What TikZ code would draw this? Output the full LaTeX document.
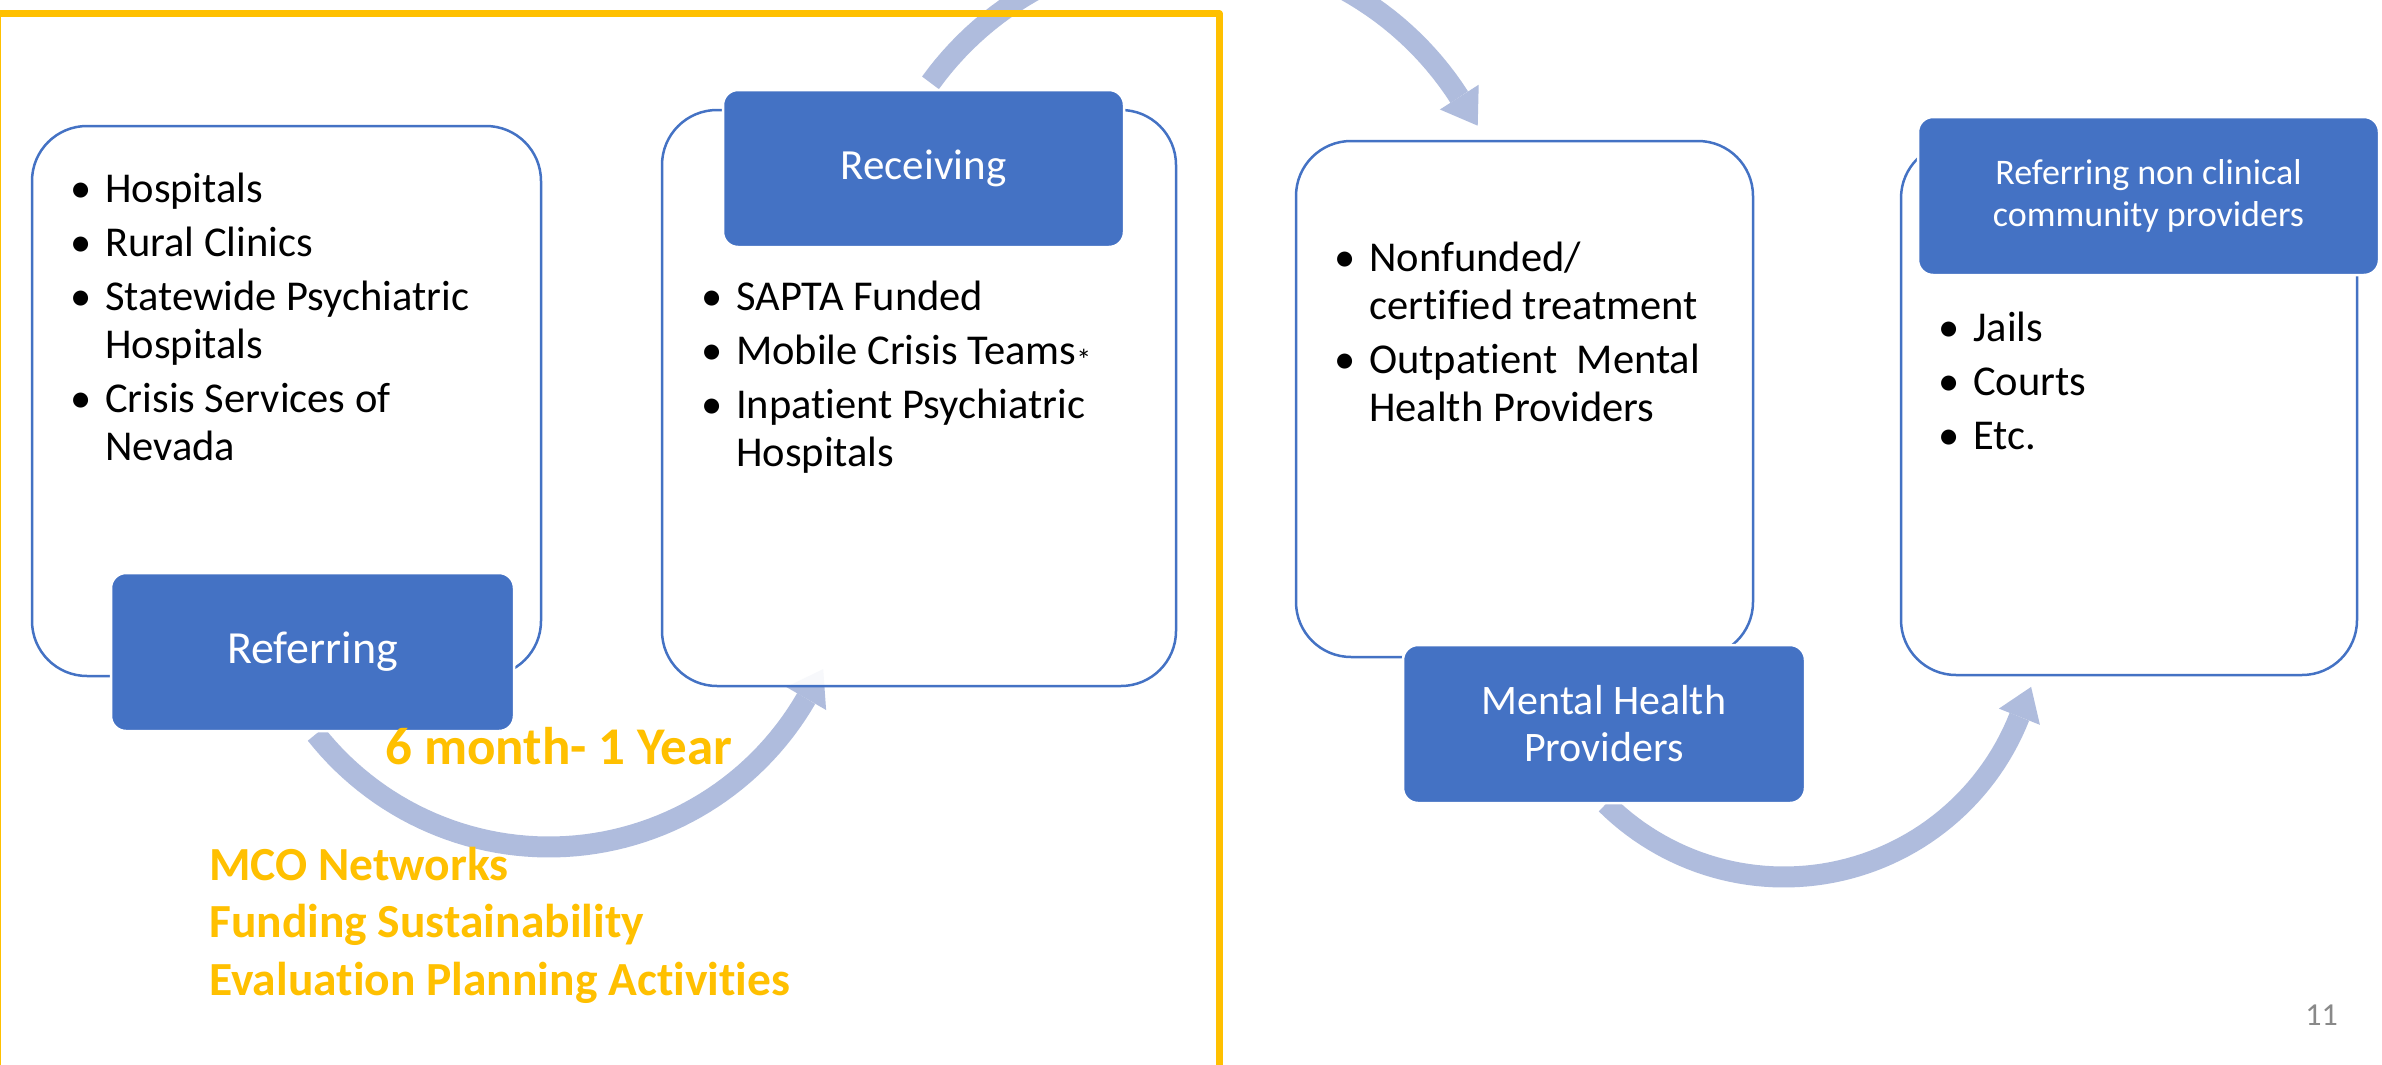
\documentclass[tikz,border=0pt]{standalone}
\usepackage{fontspec}
\setmainfont{Carlito}[Ligatures={NoCommon,NoContextual}]
\definecolor{boxblue}{HTML}{4472C4}
\definecolor{arrowc}{RGB}{175,188,221}
\definecolor{yel}{HTML}{FFC000}
\definecolor{pgnum}{HTML}{898989}
\newcommand{\bul}[1]{\par\hangindent=35pt\hangafter=1\noindent\makebox[35pt][l]{•}#1}
\newcommand{\isep}{\par\vspace{6pt}}
\begin{document}
\begin{tikzpicture}[x=1pt,y=-1pt,
  wbox/.style={draw=boxblue,line width=2.5pt,fill=white,fill opacity=0.9,rounded corners=55pt,inner sep=0pt},
  bbox/.style={draw=white,line width=2.5pt,fill=boxblue,rounded corners=15pt,inner sep=0pt,text=white,align=center},
  arr/.style={draw=arrowc,line width=21pt},
  ahead/.style={fill=arrowc},
  btext/.style={anchor=base west,inner sep=0pt,text=black}]
\path[use as bounding box] (0,0) rectangle (2382,1065);
\clip (0,0) rectangle (2382,1065);
\fill[white] (0,0) rectangle (2382,1065);

% ---- arrows ----
\coordinate (a1tail) at (315.9,734.1);
\coordinate (a1w1) at (786.3,687.0);
\coordinate (a1w2) at (826.1,710.0);
\coordinate (a1tip) at (823.2,669.1);
\draw[arr] plot[domain=30:141.7,samples=60,variable=\t] ({549+297*cos(\t)},{550+297*sin(\t)});
\fill[ahead] (a1w1) -- (a1tip) -- (a1w2) -- cycle;

\coordinate (a2tail) at (930.4,82.8);
\coordinate (a2w1) at (1478.7,84.7);
\coordinate (a2w2) at (1439.9,109.5);
\coordinate (a2tip) at (1477.7,125.7);
\draw[arr] plot[domain=-144.2:-32.7,samples=60,variable=\t] ({1190+320*cos(\t)},{270+320*sin(\t)});
\fill[ahead] (a2w1) -- (a2tip) -- (a2w2) -- cycle;

\coordinate (a3tail) at (1606.0,803.8);
\coordinate (a3w1) at (2039.9,724.8);
\coordinate (a3w2) at (1998.9,708.6);
\coordinate (a3tip) at (2031.1,686.9);
\draw[arr] plot[domain=21.5:134.7,samples=60,variable=\t] ({1784+253*cos(\t)},{624+253*sin(\t)});
\fill[ahead] (a3w1) -- (a3tip) -- (a3w2) -- cycle;

% ---- white boxes ----
\node[wbox,minimum width=509pt,minimum height=550pt] (hospBox) at (286.5,401) {};
\node[wbox,minimum width=514pt,minimum height=576pt] (recBox) at (919,398) {};
\node[wbox,minimum width=457pt,minimum height=516pt] (nfBox) at (1524.5,399) {};
\node[wbox,minimum width=456pt,minimum height=532pt] (jailBox) at (2129,409) {};

% ---- blue boxes ----
\node[bbox,minimum width=403pt,minimum height=158pt,font=\fontsize{46}{50}\selectfont] (refBox) at (312.5,652) {Referring};
\node[bbox,minimum width=401pt,minimum height=157pt,font=\fontsize{43}{48}\selectfont] (recHead) at (923.5,168.5) {\raisebox{-2pt}{Receiving}};
\node[bbox,minimum width=402pt,minimum height=158pt,font=\fontsize{42}{47}\selectfont] (mhBox) at (1604,724) {Mental Health\\Providers};
\node[bbox,minimum width=461pt,minimum height=158pt,font=\fontsize{36}{42}\selectfont] (rncBox) at (2148.5,196) {Referring non clinical\\community providers};

% ---- bullet texts ----
\node[btext] (hospList) at (70,202) {\parbox[t]{470pt}{\fontsize{42.5}{48}\selectfont
 \bul{Hospitals}\isep\bul{Rural Clinics}\isep\bul{Statewide Psychiatric\newline Hospitals}\isep\bul{Crisis Services of\newline Nevada}}};
\node[btext] (recList) at (701,310) {\parbox[t]{470pt}{\fontsize{42.5}{48}\selectfont
 \bul{SAPTA Funded}\isep\bul{Mobile Crisis Teams\raisebox{-6pt}{\fontsize{30}{30}\selectfont*}}\isep\bul{Inpatient Psychiatric\newline Hospitals}}};
\node[btext] (nfList) at (1334,271) {\parbox[t]{430pt}{\fontsize{42.5}{48}\selectfont
 \bul{Nonfunded/\newline certified treatment}\isep\bul{Outpatient\ \ Mental\newline Health Providers}}};
\node[btext] (jailList) at (1938,341) {\parbox[t]{400pt}{\fontsize{42.5}{48}\selectfont
 \bul{Jails}\isep\bul{Courts}\isep\bul{Etc.}}};

% ---- yellow frame and texts ----
\draw[yel,line width=7pt,line join=round] (-3,14) rectangle (1219.5,1100);
\node[anchor=base west,inner sep=0pt,text=yel,font=\bfseries\fontsize{53}{53}\selectfont] (dur) at (385,764) {6 month- 1 Year};
\node[anchor=base west,inner sep=0pt,text=yel] (goals) at (209,880) {\parbox[t]{700pt}{\bfseries\fontsize{47.5}{57.5}\selectfont MCO Networks\\Funding Sustainability\\Evaluation Planning Activities}};

% ---- page number ----
\node[anchor=base east,inner sep=0pt,text=pgnum,font=\fontsize{32}{32}\selectfont] (pg) at (2338,1025) {11};
\end{tikzpicture}
\end{document}
